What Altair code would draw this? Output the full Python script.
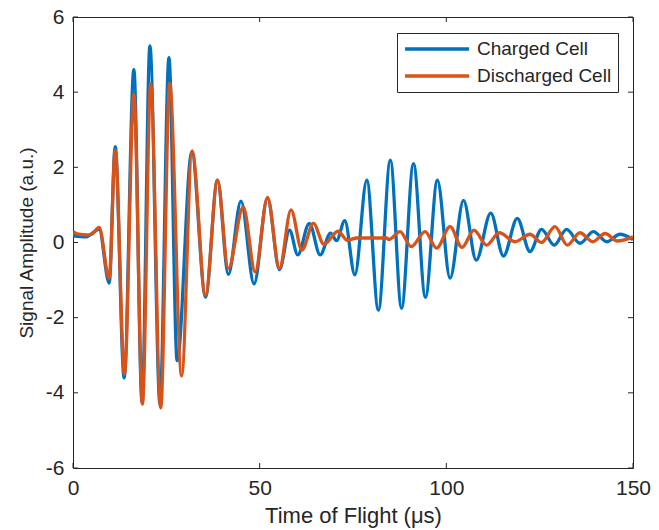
import altair as alt
import pandas as pd

# ---- data (extrema of each waveform) ----
t_charged = [0, 3.5, 7.0, 9.7, 11.3, 13.7, 16.3, 18.5, 20.6, 23.3, 25.7, 27.9, 31.8,
             35.5, 38.7, 41.6, 45.0, 48.5, 52.1, 55.3, 58.0, 60.2, 63.3, 66.2, 69.0,
             70.6, 72.8, 75.5, 78.7, 81.8, 85.0, 88.0, 91.2, 94.4, 97.6, 101.0, 104.6,
             108.0, 111.9, 115.3, 119.0, 122.4, 125.5, 128.9, 132.2, 135.8, 139.4,
             143.0, 146.5, 150]
a_charged = [0.18, 0.15, 0.35, -1.08, 2.55, -3.6, 4.6, -4.25, 5.23, -4.3, 4.92, -3.15, 2.41,
             -1.45, 1.66, -0.85, 1.1, -1.1, 1.18, -0.72, 0.33, -0.33, 0.51, -0.33, 0.25,
             0.05, 0.58, -0.86, 1.66, -1.8, 2.19, -1.75, 2.1, -1.46, 1.66, -0.95, 1.12,
             -0.47, 0.78, -0.36, 0.64, -0.24, 0.35, -0.07, 0.35, -0.02, 0.29,
             0.02, 0.22, 0.08]

t_discharged = [0, 1.5, 3.7, 5.0, 7.0, 9.7, 11.3, 13.8, 16.3, 18.6, 20.8, 23.5, 25.9,
                29.1, 31.9, 35.5, 38.7, 41.6, 45.6, 48.8, 52.1, 55.3, 58.4, 61.3, 64.4,
                67.2, 71.0, 73.5, 76.0, 84.0, 84.6, 87.6, 90.6, 94.3, 97.4, 101.0, 104.2,
                107.4, 110.8, 114.2, 118.4, 122.4, 125.5, 129.1, 132.4, 135.8, 139.2,
                142.5, 145.8, 150]
a_discharged = [0.29, 0.22, 0.2, 0.22, 0.4, -0.95, 2.46, -3.5, 3.94, -4.3, 4.22, -4.4, 4.23,
                -3.55, 2.44, -1.4, 1.66, -0.69, 0.95, -0.78, 1.2, -0.69, 0.87, -0.2, 0.51,
                -0.05, 0.3, 0.06, 0.12, 0.12, 0.08, 0.29, -0.11, 0.29, -0.15, 0.42, -0.13,
                0.33, -0.07, 0.26, 0.02, 0.22, 0.0, 0.42, -0.07, 0.26, 0.02,
                0.24, 0.04, 0.15]

series_names = ["Charged Cell", "Discharged Cell"]
series_colors = ["#0072BD", "#D95319"]
x_ticks = [0, 50, 100, 150]
y_ticks = [-6, -4, -2, 0, 2, 4, 6]

W, H = 560, 451
AX = "#262626"
FONT = "Liberation Sans"

df = pd.concat([
    pd.DataFrame({"t": t_charged, "a": a_charged, "series": series_names[0], "k": 0}),
    pd.DataFrame({"t": t_discharged, "a": a_discharged, "series": series_names[1], "k": 1}),
], ignore_index=True)

x_scale = alt.Scale(domain=[0, 150], nice=False, zero=False)
y_scale = alt.Scale(domain=[-6, 6], nice=False, zero=False)

x_axis = alt.Axis(title="Time of Flight (μs)", values=x_ticks, ticks=False, domain=False,
                  grid=False, labelFontSize=21, titleFontSize=22, labelPadding=9,
                  titlePadding=7, labelColor=AX, titleColor=AX, titleFontWeight="normal",
                  labelFont=FONT, titleFont=FONT, labelFlush=False,
                  labelExpr="'' + datum.value")
y_axis = alt.Axis(title="Signal Amplitude (a.u.)", values=y_ticks, ticks=False, domain=False,
                  grid=False, labelFontSize=21, titleFontSize=19, labelPadding=9,
                  titlePadding=9, labelColor=AX, titleColor=AX, titleFontWeight="normal",
                  labelFont=FONT, titleFont=FONT, labelFlush=False,
                  labelExpr="'' + datum.value")

lines = alt.Chart(df).mark_line(strokeWidth=3.3, interpolate="monotone", clip=True).encode(
    x=alt.X("t:Q", scale=x_scale, axis=x_axis, title="Time of Flight (μs)"),
    y=alt.Y("a:Q", scale=y_scale, axis=y_axis, title="Signal Amplitude (a.u.)"),
    color=alt.Color("series:N", scale=alt.Scale(domain=series_names, range=series_colors),
                    legend=alt.Legend(title=None, orient="none", legendX=324, legendY=16,
                                      symbolType="M-1,0L7,0", symbolSize=256,
                                      symbolStrokeWidth=3.5,
                                      labelFontSize=19, labelFont=FONT, labelColor=AX,
                                      strokeColor=AX, fillColor="white", padding=6,
                                      rowPadding=7, labelOffset=54)),
    detail="k:N",
)

xt = pd.DataFrame({"v": x_ticks})
yt = pd.DataFrame({"v": y_ticks})
tick_len = 5
xenc = alt.X("v:Q", scale=x_scale, axis=x_axis, title="Time of Flight (μs)")
yenc = alt.Y("v:Q", scale=y_scale, axis=y_axis, title="Signal Amplitude (a.u.)")
bottom_ticks = alt.Chart(xt).mark_rule(color=AX, strokeWidth=1).encode(
    x=xenc, y=alt.value(H), y2=alt.value(H - tick_len))
top_ticks = alt.Chart(xt).mark_rule(color=AX, strokeWidth=1).encode(
    x=xenc, y=alt.value(0), y2=alt.value(tick_len))
left_ticks = alt.Chart(yt).mark_rule(color=AX, strokeWidth=1).encode(
    y=yenc, x=alt.value(0), x2=alt.value(tick_len))
right_ticks = alt.Chart(yt).mark_rule(color=AX, strokeWidth=1).encode(
    y=yenc, x=alt.value(W), x2=alt.value(W - tick_len))

chart = alt.layer(lines, bottom_ticks, top_ticks, left_ticks, right_ticks).properties(
    width=W, height=H,
    autosize=alt.AutoSizeParams(type="none"),
    padding={"left": 73, "top": 17, "right": 26, "bottom": 62},
    background="white",
).configure_view(stroke=AX, strokeWidth=1)

chart.save("out.html", embed_options={"renderer": "svg", "actions": False})
